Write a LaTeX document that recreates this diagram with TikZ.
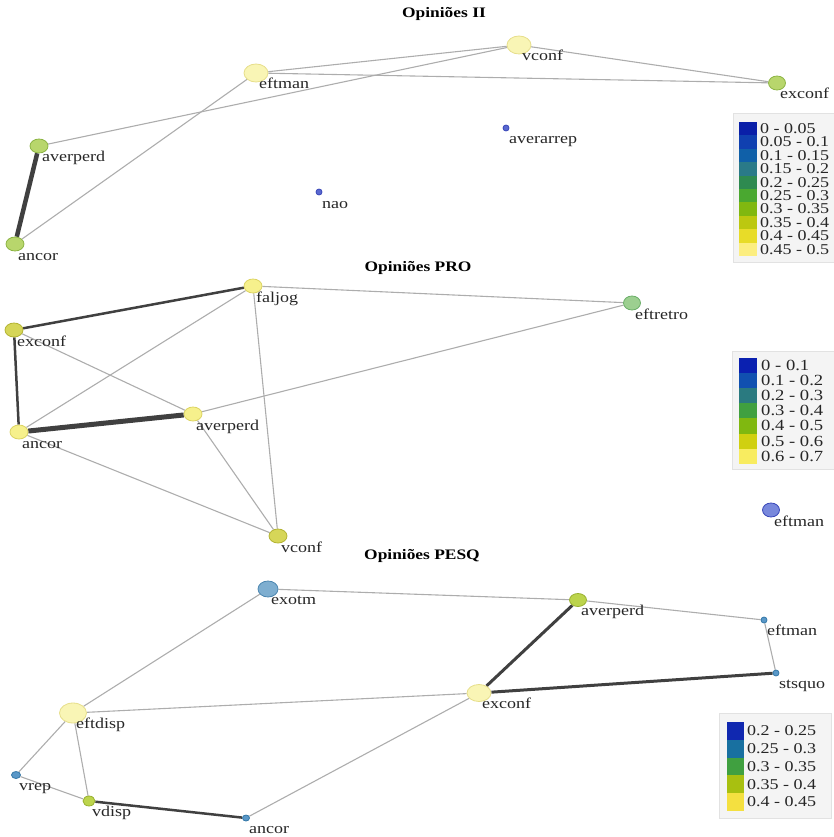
\documentclass[tikz,border=0pt]{standalone}
\usepackage{fontspec}
\setmainfont{Liberation Serif}[FakeStretch=1.2]
\usetikzlibrary{shapes.geometric,backgrounds}

% node colours
\definecolor{paleF}{HTML}{F9F5B5}\definecolor{paleD}{HTML}{E6DE8A}
\definecolor{yelF}{HTML}{F6F08C}\definecolor{yelD}{HTML}{DCD464}
\definecolor{oliveF}{HTML}{D6D658}\definecolor{oliveD}{HTML}{B4B434}
\definecolor{limeF}{HTML}{B8D66C}\definecolor{limeD}{HTML}{8CB444}
\definecolor{ylgF}{HTML}{BCD44C}\definecolor{ylgD}{HTML}{98B030}
\definecolor{grnF}{HTML}{9CCF90}\definecolor{grnD}{HTML}{6AAE68}
\definecolor{bluF}{HTML}{5A68D0}\definecolor{bluD}{HTML}{3846B8}
\definecolor{lbluF}{HTML}{7888DC}
\definecolor{stlF}{HTML}{7EAED0}\definecolor{stlD}{HTML}{4C86B0}
\definecolor{sbluF}{HTML}{5A98C8}\definecolor{sbluD}{HTML}{3478A8}
% legend colours
\definecolor{ka0}{HTML}{0A1FA8}\definecolor{ka1}{HTML}{1040B0}
\definecolor{ka2}{HTML}{1060A8}\definecolor{ka3}{HTML}{2A7A88}
\definecolor{ka4}{HTML}{2E8A50}\definecolor{ka5}{HTML}{4AA830}
\definecolor{ka6}{HTML}{80B810}\definecolor{ka7}{HTML}{BCC810}
\definecolor{ka8}{HTML}{E8DC28}\definecolor{ka9}{HTML}{FCEE80}
\definecolor{kb0}{HTML}{0A20B0}\definecolor{kb1}{HTML}{1050B0}
\definecolor{kb2}{HTML}{2A7A80}\definecolor{kb3}{HTML}{40A040}
\definecolor{kb4}{HTML}{80B810}\definecolor{kb5}{HTML}{D0D010}
\definecolor{kb6}{HTML}{F8EC60}
\definecolor{kc0}{HTML}{1028B0}\definecolor{kc1}{HTML}{1870A0}
\definecolor{kc2}{HTML}{40A040}\definecolor{kc3}{HTML}{A8C010}
\definecolor{kc4}{HTML}{F4E040}
\definecolor{legbg}{HTML}{F4F4F4}\definecolor{legline}{HTML}{E2E2E2}

\tikzset{
  nd/.style={ellipse, draw, line width=0.8pt, inner sep=0pt},
  pale/.style={fill=paleF, draw=paleD},
  yel/.style={fill=yelF, draw=yelD},
  olive/.style={fill=oliveF, draw=oliveD},
  lgreen/.style={fill=limeF, draw=limeD},
  ylg/.style={fill=ylgF, draw=ylgD},
  grn/.style={fill=grnF, draw=grnD},
  blu/.style={fill=bluF, draw=bluD},
  lblu/.style={fill=lbluF, draw=bluD},
  stl/.style={fill=stlF, draw=stlD},
  sblu/.style={fill=sbluF, draw=sbluD},
  lbl/.style={anchor=base west, inner sep=0pt, text=black!85, font=\fontsize{15}{15}\selectfont},
  ttl/.style={inner sep=0pt, font=\fontsize{14.5}{14.5}\selectfont\bfseries},
  lnk/.style={draw=black!32, line width=1.1pt},
  lnkd/.style={draw=black!75, line width=#1},
  legtxt/.style={anchor=west, inner sep=0pt, text=black!85},
}

\begin{document}
\begin{tikzpicture}[x=1pt, y=-1pt]
    \useasboundingbox (0,0) rectangle (834,837);

    % Titles
    \node[ttl] (t1) at (444,14) {Opiniões II};
    \node[ttl] (t2) at (418,268) {Opiniões PRO};
    \node[ttl] (t3) at (422,556) {Opiniões PESQ};

    % Graph 1: nodes
    \foreach \n/\x/\y/\w/\h/\s in {eftman/256/73/24/18/pale, vconf/519/45/24/18/pale,
        exconf/777/83/17/14/lgreen, averperd/39/146/18/14/lgreen, ancor/15/244/18/14/lgreen,
        nao/319/192/6/6/blu, averarrep/506/128/6/6/blu}{
        \node[nd, \s, minimum width=\w pt, minimum height=\h pt] (a-\n) at (\x,\y) {};
        \node[lbl] (a-\n-t) at (\x+3,\y+16) {\n};
    }
    % Graph 1: links
    \begin{scope}[on background layer]
        \foreach \a/\b in {eftman/vconf, eftman/exconf, vconf/exconf, averperd/vconf, eftman/ancor}
            \draw[lnk] (a-\a) -- (a-\b);
        \draw[lnkd=4.5pt] (a-averperd) -- (a-ancor);
    \end{scope}

    % Graph 2: nodes
    \foreach \n/\x/\y/\w/\h/\s in {faljog/253/286/18/14/yel, exconf/14/330/18/14/olive,
        averperd/193/414/18/14/yel, ancor/19/432/18/14/yel, vconf/278/536/18/14/olive,
        eftretro/632/303/17/14/grn, eftman/771/510/17/14/lblu}{
        \node[nd, \s, minimum width=\w pt, minimum height=\h pt] (b-\n) at (\x,\y) {};
        \node[lbl] (b-\n-t) at (\x+3,\y+16) {\n};
    }
    % Graph 2: links
    \begin{scope}[on background layer]
        \foreach \a/\b in {faljog/eftretro, faljog/ancor, faljog/vconf, exconf/averperd,
            averperd/eftretro, averperd/vconf, ancor/vconf}
            \draw[lnk] (b-\a) -- (b-\b);
        \draw[lnkd=2.5pt] (b-faljog) -- (b-exconf);
        \draw[lnkd=2.5pt] (b-exconf) -- (b-ancor);
        \draw[lnkd=5pt] (b-ancor) -- (b-averperd);
    \end{scope}

    % Graph 3: nodes
    \foreach \n/\x/\y/\w/\h/\s in {exotm/268/589/20/16/stl, eftdisp/73/713/27/20/pale,
        vrep/16/775/9/7/sblu, vdisp/89/801/12/10/ylg, ancor/246/818/7/6/sblu,
        averperd/578/600/17/13/ylg, eftman/764/620/6/6/sblu, stsquo/776/673/6/6/sblu,
        exconf/479/693/24/17/pale}{
        \node[nd, \s, minimum width=\w pt, minimum height=\h pt] (c-\n) at (\x,\y) {};
        \node[lbl] (c-\n-t) at (\x+3,\y+15) {\n};
    }
    % Graph 3: links
    \begin{scope}[on background layer]
        \foreach \a/\b in {exotm/averperd, exotm/eftdisp, averperd/eftman, eftman/stsquo,
            eftdisp/exconf, exconf/ancor, eftdisp/vrep, eftdisp/vdisp, vrep/vdisp}
            \draw[lnk] (c-\a) -- (c-\b);
        \draw[lnkd=3pt] (c-averperd) -- (c-exconf);
        \draw[lnkd=3pt] (c-exconf) -- (c-stsquo);
        \draw[lnkd=2.5pt] (c-vdisp) -- (c-ancor);
    \end{scope}

    % Legend 1
    \filldraw[fill=legbg, draw=legline] (733,113) rectangle (834,262);
    \foreach \c/\t [count=\i from 0] in {ka0/0 - 0.05, ka1/0.05 - 0.1, ka2/0.1 - 0.15,
        ka3/0.15 - 0.2, ka4/0.2 - 0.25, ka5/0.25 - 0.3, ka6/0.3 - 0.35, ka7/0.35 - 0.4,
        ka8/0.4 - 0.45, ka9/0.45 - 0.5}{
        \fill[\c] (739,122+13.4*\i) rectangle (757,135.4+13.4*\i);
        \node[legtxt, font=\fontsize{15}{15}\selectfont] (k1-\i) at (760,128.7+13.4*\i) {\t};
    }

    % Legend 2
    \filldraw[fill=legbg, draw=legline] (732,351) rectangle (834,469);
    \foreach \c/\t [count=\i from 0] in {kb0/0 - 0.1, kb1/0.1 - 0.2, kb2/0.2 - 0.3,
        kb3/0.3 - 0.4, kb4/0.4 - 0.5, kb5/0.5 - 0.6, kb6/0.6 - 0.7}{
        \fill[\c] (739,358+15.1*\i) rectangle (757,373.1+15.1*\i);
        \node[legtxt, font=\fontsize{15.5}{15.5}\selectfont] (k2-\i) at (761,365.5+15.1*\i) {\t};
    }

    % Legend 3
    \filldraw[fill=legbg, draw=legline] (719,713) rectangle (831,818);
    \foreach \c/\t [count=\i from 0] in {kc0/0.2 - 0.25, kc1/0.25 - 0.3, kc2/0.3 - 0.35,
        kc3/0.35 - 0.4, kc4/0.4 - 0.45}{
        \fill[\c] (727,722+17.8*\i) rectangle (744,739.8+17.8*\i);
        \node[legtxt, font=\fontsize{15}{15}\selectfont] (k3-\i) at (747,730.9+17.8*\i) {\t};
    }
\end{tikzpicture}
\end{document}
